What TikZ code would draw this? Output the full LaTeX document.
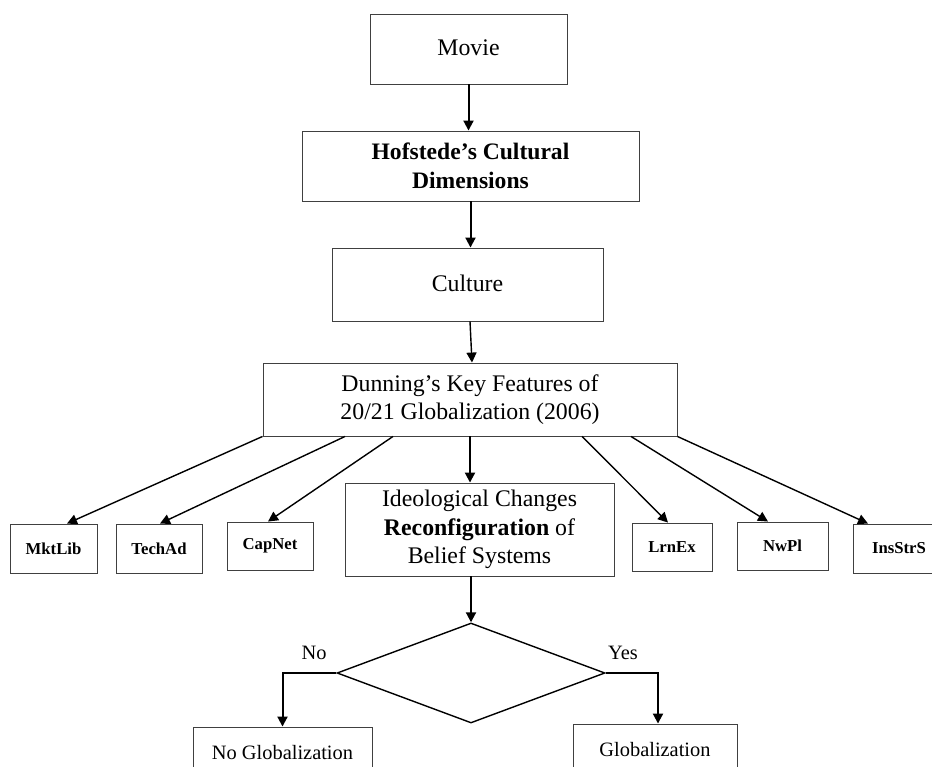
\documentclass[tikz,border=0pt]{standalone}
\usepackage{fontspec}
\setmainfont{Liberation Serif}
\usetikzlibrary{arrows.meta,shapes.geometric}
\begin{document}
\begin{tikzpicture}[x=1pt,y=-1pt,
  box/.style={draw=black!75, line width=0.9pt, inner sep=0pt, align=center, font=\fontsize{23.8}{28.5}\selectfont},
  sbox/.style={draw=black!75, line width=0.9pt, inner sep=0pt, font=\fontsize{16.7}{20}\selectfont\bfseries},
  main/.style={line width=2pt, -{Triangle[length=10pt,width=10pt]}},
  obl/.style={line width=1.4pt, -{Triangle[length=10pt,width=10pt]}},
  lbl/.style={font=\fontsize{20.4}{24}\selectfont, inner sep=0pt}]
\useasboundingbox (0,0) rectangle (932,767);
\clip (0,0) rectangle (932,767);
\fill[white] (0,0) rectangle (932,767);

\node[box, minimum width=197pt, minimum height=70pt] (movie) at (468.5,49) {\raisebox{3pt}{Movie}};
\node[box, font=\fontsize{23.6}{29}\selectfont\bfseries, minimum width=337pt, minimum height=70pt] (hof) at (470.5,166) {Hofstede’s Cultural\\Dimensions};
\node[box, minimum width=271pt, minimum height=73pt] (culture) at (467.5,284.5) {\raisebox{3pt}{Culture}};
\node[box, minimum width=414pt, minimum height=73pt] (dun) at (470,399.5) {Dunning’s Key Features of\\20/21 Globalization (2006)};

\node[sbox, minimum width=87pt, minimum height=49pt] (mkt) at (53.5,548.5) {MktLib};
\node[sbox, minimum width=86pt, minimum height=49pt] (tech) at (159,548.5) {TechAd};
\node[sbox, minimum width=86pt, minimum height=48pt] (cap) at (270,546) {CapNet};
\node[box, minimum width=269pt, minimum height=93pt] (ideo) at (479.5,529.5) {Ideological Changes\\\textbf{Reconfiguration} of\\Belief Systems};
\node[sbox, minimum width=80pt, minimum height=48pt] (lrn) at (672,547) {LrnEx};
\node[sbox, minimum width=91pt, minimum height=48pt] (nwpl) at (782.5,546) {NwPl};
\node[sbox, minimum width=92pt, minimum height=49pt] (ins) at (899,548.5) {InsStrS};

\node[draw, diamond, line width=1.4pt, minimum width=268pt, minimum height=100pt, inner sep=0pt] (dia) at (471,673) {};

\node[box, font=\fontsize{20.4}{24}\selectfont, minimum width=179pt, minimum height=52pt] (noglob) at (282.5,753) {No Globalization};
\node[box, font=\fontsize{20.4}{24}\selectfont, minimum width=164pt, minimum height=52pt] (glob) at (655,750) {Globalization};

\node[lbl] (nolbl) at (314,653) {No};
\node[lbl] (yeslbl) at (623,653) {Yes};

\draw[main] (movie.south) -- (movie.south |- hof.north);
\draw[main] (hof.south) -- (hof.south |- culture.north);
\draw[obl] ([xshift=2.5pt]culture.south) -- ([xshift=2pt]dun.north);
\draw[obl] (dun.south west) -- ([xshift=13.5pt]mkt.north);
\draw[obl] ([xshift=-125pt]dun.south) -- ([xshift=1pt]tech.north);
\draw[obl] ([xshift=-77pt]dun.south) -- ([xshift=-2pt]cap.north);
\draw[main] (dun.south) -- (dun.south |- ideo.north);
\draw[obl] ([xshift=112pt]dun.south) -- ([xshift=-4pt]lrn.north);
\draw[obl] ([xshift=161pt]dun.south) -- ([xshift=-14.5pt]nwpl.north);
\draw[obl] (dun.south east) -- ([xshift=-31pt]ins.north);
\draw[main] (dia.north |- ideo.south) -- (dia.north);
\draw[main] (dia.west) -| (noglob.north);
\draw[main] (dia.east) -| ([xshift=3pt]glob.north);
\end{tikzpicture}
\end{document}
